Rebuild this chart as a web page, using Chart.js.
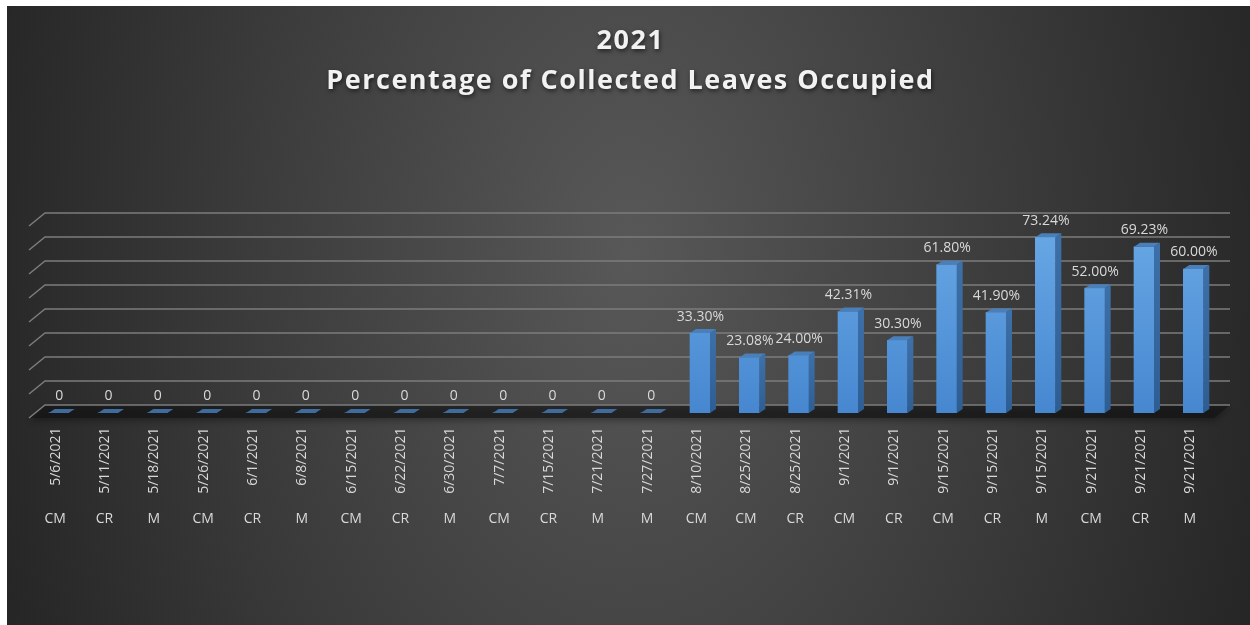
<!DOCTYPE html>
<html>
<head>
<meta charset="utf-8">
<title>2021 Percentage of Collected Leaves Occupied</title>
<script src="https://cdn.jsdelivr.net/npm/chart.js@4.4.1/dist/chart.umd.min.js"></script>
<style>
  html, body { margin: 0; padding: 0; background: #fff; }
  #panel {
    position: absolute; left: 7px; top: 6px; width: 1243px; height: 619px;
    background: radial-gradient(ellipse 660px 1000px at 50% 40%, #585858 0%, #262626 100%);
  }
  canvas { display: block; }
</style>
</head>
<body>
<div id="panel"><canvas id="chart" width="1243" height="619"></canvas></div>
<script>
const titleLines = ['2021', 'Percentage of Collected Leaves Occupied'];

const dates = [
  '5/6/2021', '5/11/2021', '5/18/2021', '5/26/2021', '6/1/2021', '6/8/2021',
  '6/15/2021', '6/22/2021', '6/30/2021', '7/7/2021', '7/15/2021', '7/21/2021',
  '7/27/2021', '8/10/2021', '8/25/2021', '8/25/2021', '9/1/2021', '9/1/2021',
  '9/15/2021', '9/15/2021', '9/15/2021', '9/21/2021', '9/21/2021', '9/21/2021'
];
const types = [
  'CM', 'CR', 'M', 'CM', 'CR', 'M', 'CM', 'CR', 'M', 'CM', 'CR', 'M',
  'M', 'CM', 'CM', 'CR', 'CM', 'CR', 'CM', 'CR', 'M', 'CM', 'CR', 'M'
];
// percent of leaves occupied
const occupied = [
  0, 0, 0, 0, 0, 0, 0, 0, 0, 0, 0, 0,
  0, 33.30, 23.08, 24.00, 42.31, 30.30, 61.80, 41.90, 73.24, 52.00, 69.23, 60.00
];
const gridValues = [0, 10, 20, 30, 40, 50, 60, 70, 80];

// 3D look: back wall sits up/right of the bar fronts
const WALL_DX = 11, WALL_DY = -8;
const BAR_DX = 6, BAR_DY = -4;

const FONT = '"Open Sans", sans-serif';
const TEXT_COLOR = '#d9d9d9';

function fmt(v) {
  return v === 0 ? '0' : v.toFixed(2) + '%';
}

const titlePlugin = {
  id: 'stackedTitle',
  afterDraw(chart) {
    const { ctx, width } = chart;
    ctx.save();
    ctx.font = `bold 27px ${FONT}`;
    ctx.letterSpacing = '1.5px';
    ctx.fillStyle = '#f2f2f2';
    ctx.textAlign = 'center';
    ctx.textBaseline = 'middle';
    ctx.shadowColor = 'rgba(0,0,0,0.6)';
    ctx.shadowBlur = 4;
    ctx.shadowOffsetX = 1;
    ctx.shadowOffsetY = 2;
    titleLines.forEach((t, i) => ctx.fillText(t, width / 2 + 2, 35 + i * 40));
    ctx.restore();
  }
};

const wallPlugin = {
  id: 'wall',
  beforeDatasetsDraw(chart) {
    const { ctx, chartArea: a, scales: { y } } = chart;
    const y0 = y.getPixelForValue(0);
    ctx.save();
    // floor slab
    ctx.fillStyle = 'rgba(18,18,18,0.6)';
    ctx.shadowColor = 'rgba(0,0,0,0.5)';
    ctx.shadowBlur = 6;
    ctx.shadowOffsetY = 3;
    ctx.beginPath();
    ctx.moveTo(a.left + WALL_DX, y0 + WALL_DY);
    ctx.lineTo(a.right + WALL_DX + 1, y0 + WALL_DY);
    ctx.lineTo(a.right - 4, y0 + 5);
    ctx.lineTo(a.left - 5, y0 + 5);
    ctx.closePath();
    ctx.fill();
    ctx.shadowColor = 'transparent';
    // gridlines on the back wall with their side stubs
    ctx.strokeStyle = '#7c7c7c';
    ctx.lineWidth = 1.5;
    gridValues.forEach(v => {
      const yb = y.getPixelForValue(v) + WALL_DY;
      ctx.beginPath();
      ctx.moveTo(a.left - 5, yb + 13);
      ctx.lineTo(a.left + WALL_DX, yb);
      ctx.lineTo(a.right + WALL_DX + 1, yb);
      ctx.stroke();
    });
    ctx.restore();
  }
};

const barSidesPlugin = {
  id: 'barSides',
  afterDatasetsDraw(chart) {
    const { ctx } = chart;
    const meta = chart.getDatasetMeta(0);
    ctx.save();
    meta.data.forEach((bar, i) => {
      const half = bar.width / 2;
      const l = bar.x - half, r = bar.x + half;
      // side face
      if (bar.base - bar.y > 0.5) {
        const g = ctx.createLinearGradient(0, bar.y, 0, bar.base);
        g.addColorStop(0, '#3d70a8');
        g.addColorStop(1, '#2e5d92');
        ctx.fillStyle = g;
        ctx.beginPath();
        ctx.moveTo(r, bar.y);
        ctx.lineTo(r + BAR_DX, bar.y + BAR_DY);
        ctx.lineTo(r + BAR_DX, bar.base + BAR_DY);
        ctx.lineTo(r, bar.base);
        ctx.closePath();
        ctx.fill();
      }
      // top face
      ctx.fillStyle = occupied[i] === 0 ? '#3f6c9e' : '#4a7fba';
      ctx.beginPath();
      ctx.moveTo(l, bar.y);
      ctx.lineTo(l + BAR_DX, bar.y + BAR_DY);
      ctx.lineTo(r + BAR_DX, bar.y + BAR_DY);
      ctx.lineTo(r, bar.y);
      ctx.closePath();
      ctx.fill();
    });
    // value labels
    ctx.font = `14px ${FONT}`;
    ctx.fillStyle = TEXT_COLOR;
    ctx.textAlign = 'center';
    ctx.textBaseline = 'middle';
    meta.data.forEach((bar, i) => {
      ctx.fillText(fmt(occupied[i]), bar.x + 0.5, bar.y - 16.5);
    });
    ctx.restore();
  }
};

// category labels: rotated date hanging from the floor, sample type below it
const categoryLabelsPlugin = {
  id: 'categoryLabels',
  afterDraw(chart) {
    const { ctx, chartArea: a, scales: { x } } = chart;
    ctx.save();
    ctx.font = `14px ${FONT}`;
    ctx.fillStyle = TEXT_COLOR;
    dates.forEach((d, i) => {
      const px = x.getPixelForValue(i) - 3;
      ctx.save();
      ctx.translate(px, a.bottom + 14.5);
      ctx.rotate(-Math.PI / 2);
      ctx.textAlign = 'right';
      ctx.textBaseline = 'middle';
      ctx.fillText(d, 0, 0);
      ctx.restore();
    });
    ctx.textAlign = 'center';
    ctx.textBaseline = 'alphabetic';
    types.forEach((t, i) => {
      ctx.fillText(t, x.getPixelForValue(i) - 3.5, a.bottom + 110);
    });
    ctx.restore();
  }
};

function frontFill(context) {
  const { chart } = context;
  const a = chart.chartArea;
  if (!a) return '#5b9bd5';
  const g = chart.ctx.createLinearGradient(0, a.top, 0, a.bottom);
  g.addColorStop(0, '#6aa9e6');
  g.addColorStop(1, '#4687d0');
  return g;
}

new Chart(document.getElementById('chart'), {
  type: 'bar',
  data: {
    labels: dates,
    datasets: [{
      label: 'Occupied',
      data: occupied,
      backgroundColor: frontFill,
      borderWidth: 0,
      barThickness: 20
    }]
  },
  options: {
    responsive: false,
    animation: false,
    layout: { padding: { top: 215, left: 27, right: 32, bottom: 212 } },
    plugins: {
      legend: { display: false },
      tooltip: { enabled: false }
    },
    scales: {
      x: {
        display: false,
        offset: true
      },
      y: {
        display: false,
        min: 0,
        max: 80
      }
    }
  },
  plugins: [wallPlugin, barSidesPlugin, categoryLabelsPlugin, titlePlugin]
});
</script>
</body>
</html>
